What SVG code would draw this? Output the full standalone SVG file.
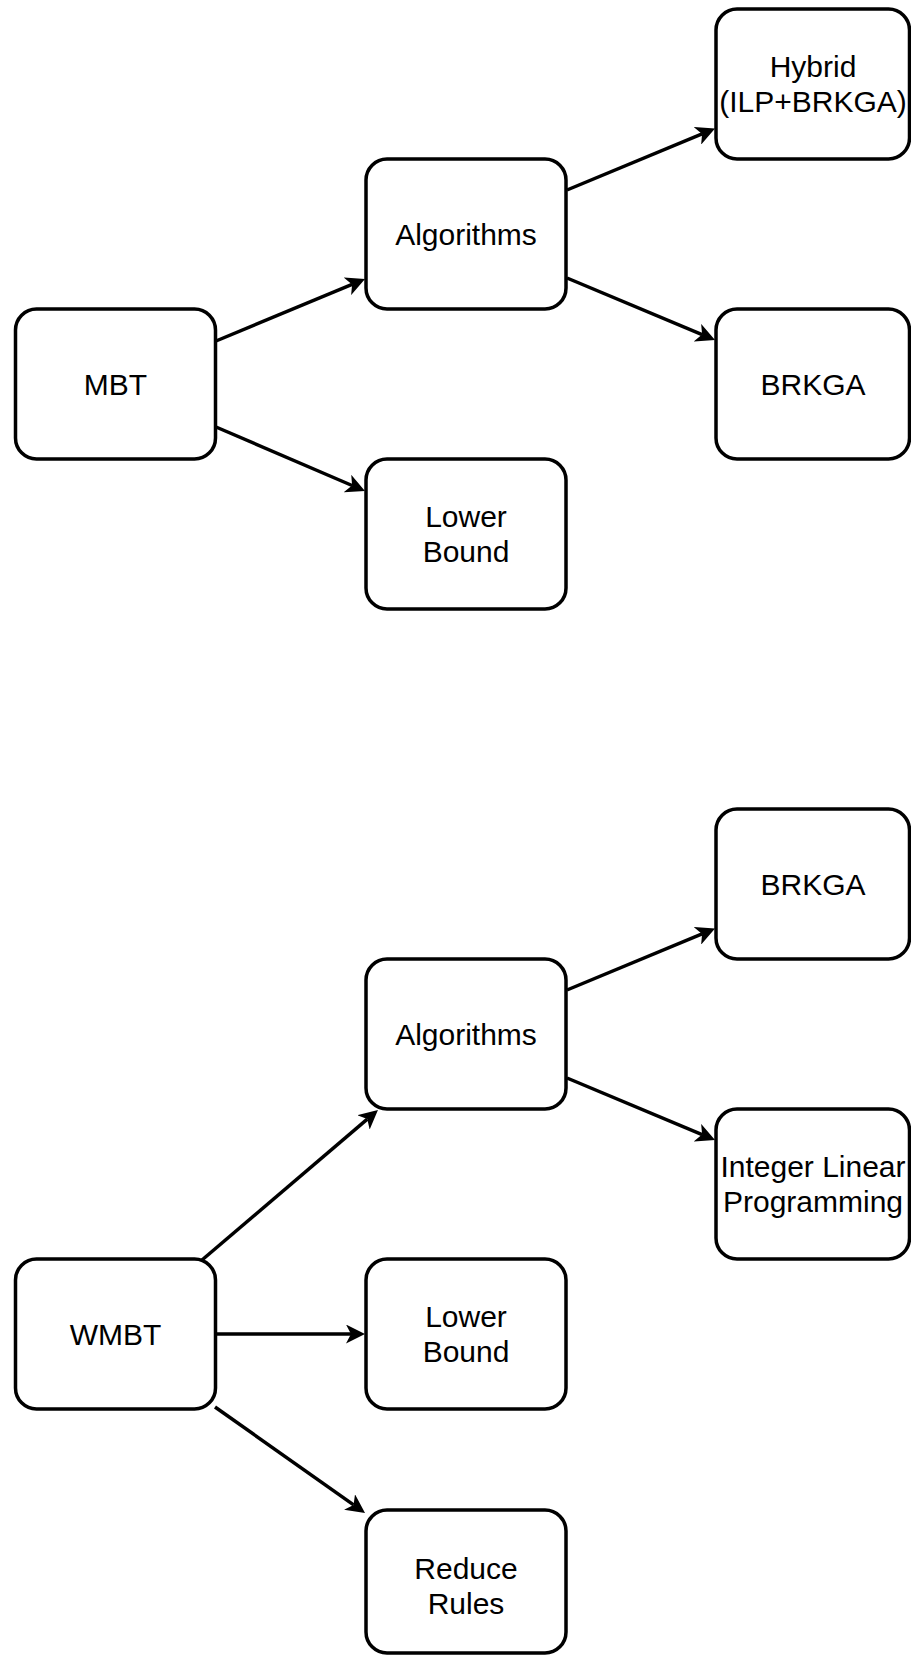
<svg xmlns="http://www.w3.org/2000/svg" width="911" height="1657" viewBox="0 0 911 1657">
<style>
.box{fill:#fff;stroke:#000;stroke-width:3.5}
.lbl{font-family:"Liberation Sans",Arial,sans-serif;font-size:30px;fill:#000;text-anchor:middle}
.edge{fill:none;stroke:#000;stroke-width:3.5}
</style>
<defs>
<marker id="arr" markerUnits="userSpaceOnUse" markerWidth="19" markerHeight="19" viewBox="0 0 19 19" refX="5" refY="9.5" orient="auto">
<path d="M0,0 L19,9.5 L0,19 L5,9.5 Z" fill="#000"/>
</marker>
</defs>
<rect width="911" height="1657" fill="#fff"/>
<g id="connectors">
<line class="edge" x1="216" y1="341" x2="352.1" y2="284.4" marker-end="url(#arr)"/>
<line class="edge" x1="216" y1="427" x2="352.1" y2="485.5" marker-end="url(#arr)"/>
<line class="edge" x1="567" y1="190" x2="702.1" y2="133.9" marker-end="url(#arr)"/>
<line class="edge" x1="567" y1="278" x2="702.1" y2="334.6" marker-end="url(#arr)"/>
<line class="edge" x1="567" y1="990" x2="702.1" y2="933.9" marker-end="url(#arr)"/>
<line class="edge" x1="567" y1="1078" x2="702.1" y2="1134.6" marker-end="url(#arr)"/>
<line class="edge" x1="202" y1="1260" x2="367.3" y2="1119.1" marker-end="url(#arr)"/>
<line class="edge" x1="216" y1="1334" x2="351" y2="1334" marker-end="url(#arr)"/>
<line class="edge" x1="215" y1="1407" x2="353.6" y2="1504.9" marker-end="url(#arr)"/>
</g>
<g id="mbt"><rect class="box" x="15.5" y="309" width="200" height="150" rx="21"/><text class="lbl" x="115.5" y="394.7">MBT</text></g>
<g id="alg1"><rect class="box" x="366" y="159" width="200" height="150" rx="21"/><text class="lbl" x="466" y="244.7">Algorithms</text></g>
<g id="hybrid"><rect class="box" x="716" y="9" width="193.5" height="150" rx="21"/><text class="lbl" x="813" y="77.2">Hybrid</text><text class="lbl" x="813" y="112.2">(ILP+BRKGA)</text></g>
<g id="brkga1"><rect class="box" x="716" y="309" width="193.5" height="150" rx="21"/><text class="lbl" x="813" y="394.7">BRKGA</text></g>
<g id="lb1"><rect class="box" x="366" y="459" width="200" height="150" rx="21"/><text class="lbl" x="466" y="527.2">Lower</text><text class="lbl" x="466" y="562.2">Bound</text></g>
<g id="brkga2"><rect class="box" x="716" y="809" width="193.5" height="150" rx="21"/><text class="lbl" x="813" y="894.7">BRKGA</text></g>
<g id="alg2"><rect class="box" x="366" y="959" width="200" height="150" rx="21"/><text class="lbl" x="466" y="1044.7">Algorithms</text></g>
<g id="ilp"><rect class="box" x="716" y="1109" width="193.5" height="150" rx="21"/><text class="lbl" x="813" y="1177.2">Integer Linear</text><text class="lbl" x="813" y="1212.2">Programming</text></g>
<g id="wmbt"><rect class="box" x="15.5" y="1259" width="200" height="150" rx="21"/><text class="lbl" x="115.5" y="1344.7">WMBT</text></g>
<g id="lb2"><rect class="box" x="366" y="1259" width="200" height="150" rx="21"/><text class="lbl" x="466" y="1327.2">Lower</text><text class="lbl" x="466" y="1362.2">Bound</text></g>
<g id="reduce"><rect class="box" x="366" y="1510" width="200" height="143" rx="21"/><text class="lbl" x="466" y="1579.2">Reduce</text><text class="lbl" x="466" y="1614.2">Rules</text></g>
</svg>
